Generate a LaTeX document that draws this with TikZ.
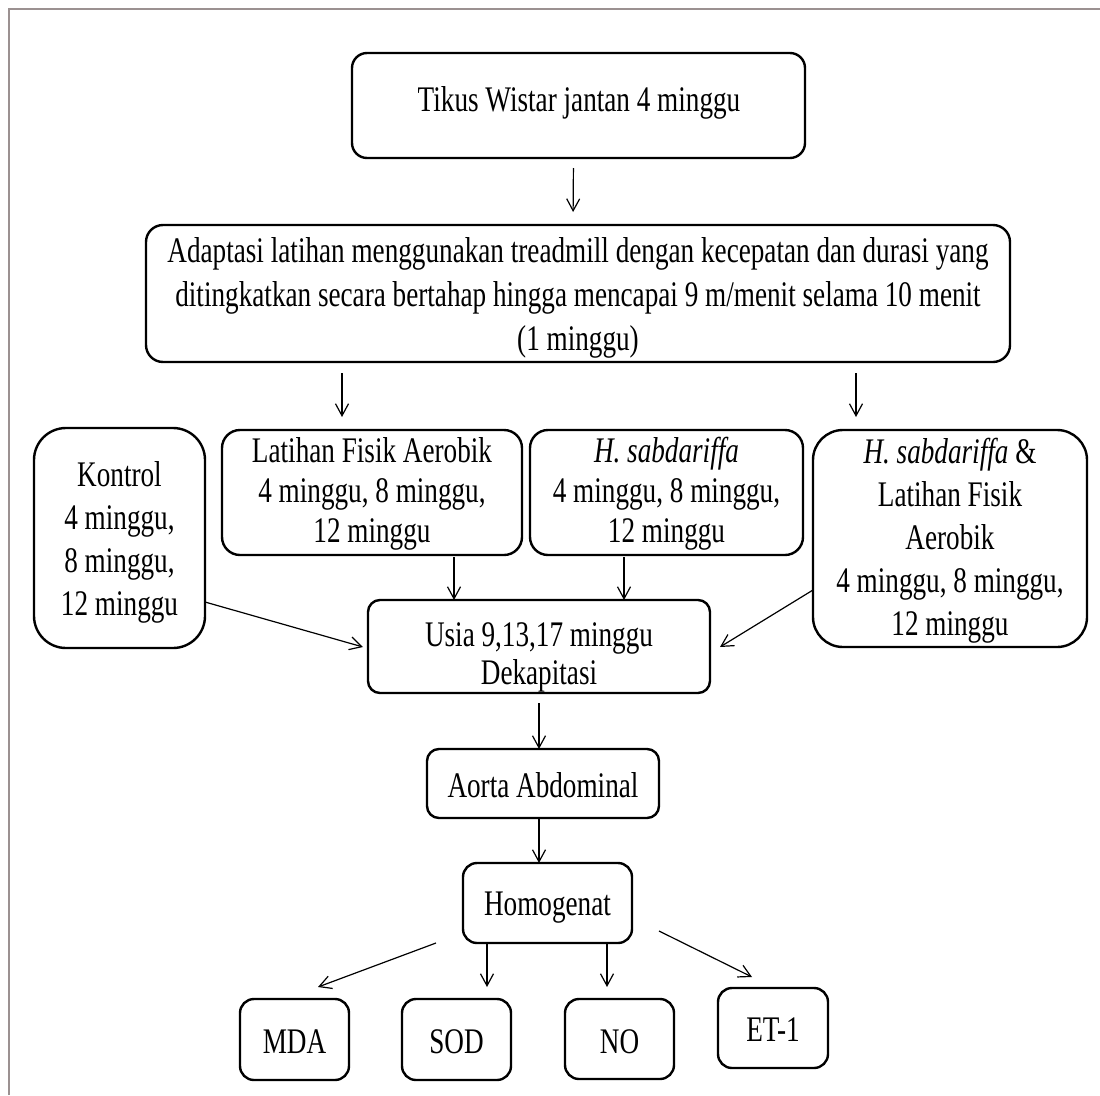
\documentclass[tikz,border=0pt]{standalone}
\usepackage{fontspec}
\setmainfont{Liberation Serif}[FakeStretch=0.755]
\usetikzlibrary{arrows.meta,calc}
\definecolor{framegray}{RGB}{155,145,145}
\begin{document}
\begin{tikzpicture}[x=1pt,y=-1pt,
  box/.style={draw, line width=2.4pt, rounded corners=#1, inner sep=0pt, outer sep=0pt},
  box/.default=14pt,
  txt/.style={align=center, inner sep=0pt, font=\fontsize{36}{#1}\selectfont},
  txt/.default=42,
  arr/.style={line width=1.2pt, -{Straight Barb[length=12pt,width=13pt,line width=1.2pt]}}]
\useasboundingbox (0,0) rectangle (1100,1095);
\draw[framegray, line width=2pt] (9,1095) -- (9,9) -- (1100,9);

% boxes
\node[box=15pt, minimum width=453pt, minimum height=105pt] (b1) at (578.5,105.5) {};
\node[txt, anchor=base] (t1) at (579,111) {Tikus Wistar jantan 4 minggu};

\node[box=17pt, minimum width=864pt, minimum height=137pt] (b2) at (578,293.5) {};
\node[txt=44] (t2) at (578,297.5) {Adaptasi latihan menggunakan treadmill dengan kecepatan dan durasi yang\\ditingkatkan secara bertahap hingga mencapai 9 m/menit selama 10 menit\\(1 minggu)};

\node[box=32pt, minimum width=171pt, minimum height=220pt] (kon) at (119.5,538) {};
\node[txt=43] (tkon) at (119.5,542.5) {Kontrol\\4 minggu,\\8 minggu,\\12 minggu};

\node[box=18pt, minimum width=300pt, minimum height=125pt] (lat) at (372,492.5) {};
\node[txt=40] (tlat) at (372,493.5) {Latihan Fisik Aerobik\\4 minggu, 8 minggu,\\12 minggu};

\node[box=18pt, minimum width=273pt, minimum height=125pt] (hsab) at (666.5,492.5) {};
\node[txt=40] (thsab) at (666.5,493.5) {\textit{H. sabdariffa}\\4 minggu, 8 minggu,\\12 minggu};

\node[box=30pt, minimum width=274pt, minimum height=217pt] (hsl) at (950,538.5) {};
\node[txt=43] (thsl) at (950,540.5) {\textit{H. sabdariffa} \&\\Latihan Fisik\\Aerobik\\4 minggu, 8 minggu,\\12 minggu};

\node[box=12pt, minimum width=342pt, minimum height=93pt] (usia) at (539,646.5) {};
\node[txt=38] (tusia) at (539,657.5) {Usia 9,13,17 minggu\\Dekapitasi};

\node[box=12pt, minimum width=232pt, minimum height=69pt] (aorta) at (543,783.5) {};
\node[txt, anchor=base] (taorta) at (543,797) {Aorta Abdominal};

\node[box=14pt, minimum width=169pt, minimum height=80pt] (hom) at (547.5,903) {};
\node[txt, anchor=base] (thom) at (547.5,915) {Homogenat};

\node[box=14pt, minimum width=109pt, minimum height=81pt] (mda) at (294.5,1039.5) {};
\node[txt, anchor=base] (tmda) at (294.5,1053) {MDA};
\node[box=14pt, minimum width=109pt, minimum height=81pt] (sod) at (456.5,1039.5) {};
\node[txt, anchor=base] (tsod) at (456.5,1053) {SOD};
\node[box=14pt, minimum width=109pt, minimum height=80pt] (no) at (619.5,1039) {};
\node[txt, anchor=base] (tno) at (619.5,1053) {NO};
\node[box=14pt, minimum width=110pt, minimum height=80pt] (et) at (773,1028) {};
\node[txt, anchor=base] (tet) at (773,1041) {ET-1};

% connectors
\draw[arr, shorten <=10pt, shorten >=13pt] ($(b1.south)+(-5,0)$) -- ($(b2.north)+(-5,0)$);
\draw[arr, shorten <=11pt, shorten >=13pt] ($(b2.south)+(-236,0)$) -- ($(lat.north)+(-30,0)$);
\draw[arr, shorten <=11pt, shorten >=13pt] ($(b2.south)+(278,0)$) -- ($(hsl.north)+(-94,0)$);
\draw[arr, shorten <=2pt] ($(lat.south)+(82,0)$) -- ($(usia.north)+(-85,0)$);
\draw[arr, shorten <=2pt] ($(hsab.south)+(-42.5,0)$) -- ($(usia.north)+(85,0)$);
\draw[arr] ($(kon.east)+(0,64)$) -- ($(usia.west)+(-5,0.5)$);
\draw[arr] ($(hsl.west)+(0,51.5)$) -- ($(usia.east)+(10,0.5)$);
\draw[arr, shorten <=10pt] (usia.south) -- ($(aorta.north)+(-4,0)$);
\draw[arr] ($(aorta.south)+(-4,0)$) -- ($(hom.north)+(-8.5,0)$);
\draw[arr] ($(hom.south)+(-111.5,0)$) -- ($(mda.north)+(23.5,-12)$);
\draw[arr, shorten >=12pt] ($(hom.south)+(-60.5,0)$) -- ($(sod.north)+(30.5,0)$);
\draw[arr, shorten >=12pt] ($(hom.south)+(59.5,0)$) -- ($(no.north)+(-12.5,0)$);
\draw[arr] ($(hom.east)+(27,28)$) -- ($(et.north)+(-21,-11)$);
\end{tikzpicture}
\end{document}
